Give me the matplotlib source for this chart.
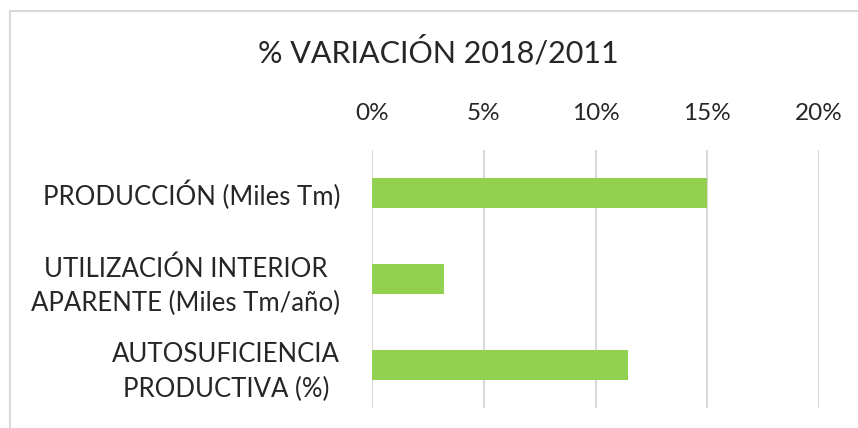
import matplotlib
matplotlib.use("Agg")
import matplotlib.pyplot as plt
from matplotlib.lines import Line2D

categories = ["PRODUCCIÓN (Miles Tm)",
              "UTILIZACIÓN INTERIOR\nAPARENTE (Miles Tm/año)",
              "AUTOSUFICIENCIA\nPRODUCTIVA (%)"]
values = [15.0, 3.2, 11.45]
ticks = [0, 5, 10, 15, 20]
tick_labels = ["0%", "5%", "10%", "15%", "20%"]

plt.rcParams['font.family'] = ['Lato', 'DejaVu Sans']
txt = "#262626"

fig = plt.figure(figsize=(8.58, 4.28), dpi=100)
ax = fig.add_axes([372/858, 1 - 408/428, 447/858, 258/428])

y = range(len(categories))
ax.barh(y, values, height=0.36, color="#92D050", zorder=3)
ax.set_xlim(0, 20)
ax.set_ylim(len(categories) - 0.5, -0.5)

ax.xaxis.tick_top()
ax.set_xticks(ticks, tick_labels, fontsize=17.5, color=txt)
ax.set_yticks(list(y), categories, fontsize=18.5, color=txt,
              multialignment="center", linespacing=1.45)
ax.tick_params(axis="x", length=0, pad=19)
ax.tick_params(axis="y", length=0, pad=23)
ax.grid(axis="x", color="#D9D9D9", linewidth=1.5, zorder=0)
for s in ax.spines.values():
    s.set_visible(False)

fig.text(438/858, 1 - 52/428, "% VARIACIÓN 2018/2011", ha="center",
         va="center", fontsize=22, color=txt)

# outer chart border (cropped at right and bottom)
fig.add_artist(Line2D([10/858, 1], [1 - 11/428, 1 - 11/428],
                      color="#D9D9D9", linewidth=1.5))
fig.add_artist(Line2D([10/858, 10/858], [0, 1 - 11/428],
                      color="#D9D9D9", linewidth=1.5))

fig.savefig("out.png", dpi=100)
